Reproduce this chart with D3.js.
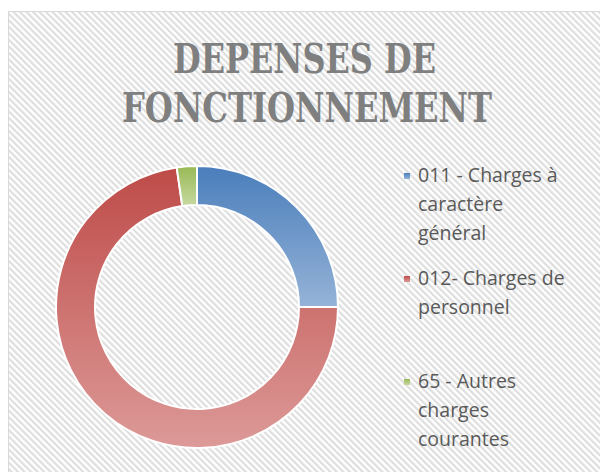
<!DOCTYPE html>
<html>
<head>
<meta charset="utf-8">
<script src="https://cdn.jsdelivr.net/npm/d3@7"></script>
<style>
  body { margin: 0; background: #fff; }
  svg { display: block; }
</style>
</head>
<body>
<script>
// data
var categories = ['011 - Charges à caractère général', '012- Charges de personnel', '65 - Autres charges courantes'];
var values = [25.0, 72.7, 2.3];
var legendLines = [['011 - Charges à', 'caractère', 'général'], ['012- Charges de', 'personnel'], ['65 - Autres', 'charges', 'courantes']];
var titleLines = ['DEPENSES DE', 'FONCTIONNEMENT'];
var topColors = ['#4a7ebb', '#be4b48', '#98b954'];
var bottomColors = ['#95b3d7', '#dc9a98', '#c6d9a0'];

var width = 600, height = 472;
var cx = 197, cy = 307, outerR = 141, innerR = 102;

var svg = d3.select('body').append('svg')
	.attr('width', width)
	.attr('height', height);

var defs = svg.append('defs');

// hatched background
var pat = defs.append('pattern')
	.attr('id', 'hatch')
	.attr('patternUnits', 'userSpaceOnUse')
	.attr('width', 4.6)
	.attr('height', 4.6)
	.attr('patternTransform', 'rotate(-45)');
pat.append('rect').attr('width', 4.6).attr('height', 4.6).attr('fill', '#ffffff');
pat.append('rect').attr('width', 2.2).attr('height', 4.6).attr('fill', '#dedede');

categories.forEach(function(c, i) {
	var g = defs.append('linearGradient')
		.attr('id', 'grad' + i)
		.attr('x1', 0).attr('y1', 0).attr('x2', 0).attr('y2', 1);
	g.append('stop').attr('offset', '0%').attr('stop-color', topColors[i]);
	g.append('stop').attr('offset', '100%').attr('stop-color', bottomColors[i]);
});

svg.append('rect')
	.attr('x', 8.5).attr('y', 11.5)
	.attr('width', 600).attr('height', 470)
	.attr('fill', 'url(#hatch)')
	.attr('stroke', '#d9d9d9')
	.attr('stroke-width', 1);

// title
svg.selectAll('.title')
	.data(titleLines)
	.enter()
	.append('text')
	.attr('class', 'title')
	.attr('x', function(d, i) { return i === 0 ? 304.5 : 307; })
	.attr('y', function(d, i) { return 73 + i * 49; })
	.attr('text-anchor', 'middle')
	.attr('textLength', function(d, i) { return i === 0 ? 263 : 370; })
	.attr('lengthAdjust', 'spacingAndGlyphs')
	.style('font-family', '"DejaVu Serif Condensed", "DejaVu Serif", serif')
	.style('font-weight', 'bold')
	.style('font-size', '41px')
	.style('fill', '#7f7f7f')
	.text(function(d) { return d; });

// donut
var pie = d3.pie().sort(null).value(function(d) { return d; });
var arc = d3.arc().innerRadius(innerR).outerRadius(outerR);

svg.append('g')
	.attr('transform', 'translate(' + cx + ',' + cy + ')')
	.selectAll('path')
	.data(pie(values))
	.enter()
	.append('path')
	.attr('d', arc)
	.attr('fill', function(d, i) { return 'url(#grad' + i + ')'; })
	.attr('stroke', '#ffffff')
	.attr('stroke-width', 2);

// legend
var legendY = d3.scaleLinear().domain([0, 1]).range([182, 285]);
var items = svg.selectAll('.legend')
	.data(legendLines)
	.enter()
	.append('g')
	.attr('class', 'legend')
	.attr('transform', function(d, i) { return 'translate(0,' + legendY(i) + ')'; });

items.append('rect')
	.attr('x', 404).attr('y', -9)
	.attr('width', 6).attr('height', 6)
	.attr('fill', function(d, i) { return 'url(#grad' + i + ')'; });

items.selectAll('text')
	.data(function(d) { return d; })
	.enter()
	.append('text')
	.attr('x', 418)
	.attr('y', function(d, j) { return j * 29; })
	.style('font-family', '"Open Sans", sans-serif')
	.style('font-size', '19.5px')
	.style('fill', '#595959')
	.text(function(d) { return d; });
</script>
</body>
</html>
